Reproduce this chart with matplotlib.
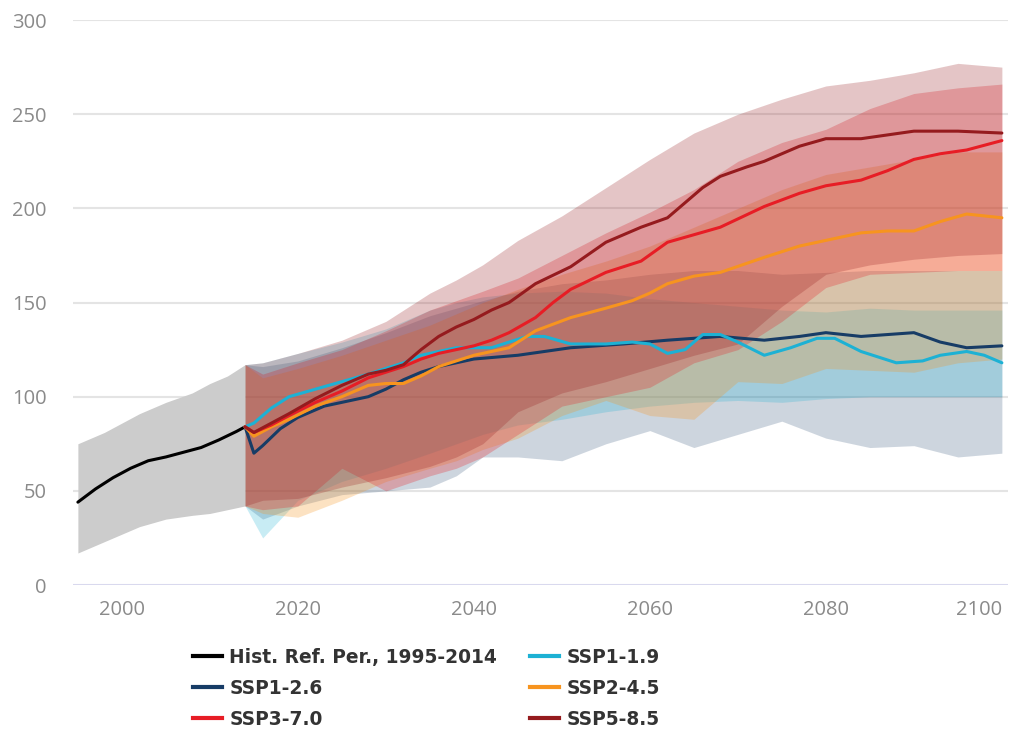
import matplotlib
matplotlib.use("Agg")
import matplotlib.pyplot as plt
from matplotlib.lines import Line2D

# ---------------- data ----------------
hist_years = [1995, 1997, 1999, 2001, 2003, 2005, 2007, 2009, 2011, 2013, 2014]
hist_vals = [44, 51, 57, 62, 66, 68, 70.5, 73, 77, 81.5, 84]
hist_band_years = [1995, 1998, 2002, 2005, 2008, 2010, 2012, 2014]
hist_upper = [75, 81, 91, 97, 102, 107, 111, 117]
hist_lower = [17, 23, 31, 35, 37, 38, 40, 42]

band_years = [2014, 2016, 2020, 2025, 2030, 2035, 2038, 2041, 2045, 2050, 2055,
              2060, 2065, 2070, 2075, 2080, 2085, 2090, 2095, 2100]

ssp126_upper = [117, 116, 119, 126, 134, 143, 147, 151, 156, 160, 162, 165, 167, 167, 165, 166, 167, 167, 167, 167]
ssp126_lower = [42, 35, 42, 48, 50, 52, 58, 68, 68, 66, 75, 82, 73, 80, 87, 78, 73, 74, 68, 70]
ssp119_upper = [117, 118, 123, 129, 136, 146, 150, 153, 155, 156, 155, 152, 150, 148, 146, 145, 147, 146, 146, 146]
ssp119_lower = [42, 25, 45, 55, 62, 70, 75, 80, 85, 88, 92, 95, 97, 98, 97, 99, 100, 100, 100, 100]
ssp245_upper = [117, 110, 115, 122, 130, 138, 144, 150, 157, 165, 172, 180, 190, 200, 210, 218, 222, 226, 230, 230]
ssp245_lower = [42, 38, 36, 45, 55, 62, 66, 72, 78, 90, 98, 90, 88, 108, 107, 115, 114, 113, 118, 120]
ssp370_upper = [117, 112, 118, 125, 135, 146, 151, 156, 163, 175, 187, 198, 210, 225, 235, 242, 253, 261, 264, 266]
ssp370_lower = [42, 40, 42, 62, 50, 58, 62, 68, 80, 95, 100, 105, 118, 125, 140, 158, 165, 166, 167, 167]
ssp585_upper = [117, 118, 123, 130, 140, 155, 162, 170, 183, 196, 211, 226, 240, 250, 258, 265, 268, 272, 277, 275]
ssp585_lower = [42, 45, 46, 52, 57, 63, 68, 75, 92, 102, 108, 115, 122, 128, 148, 165, 170, 173, 175, 176]

ssp119_years = [2014, 2015, 2017, 2019, 2022, 2025, 2028, 2030, 2032, 2034, 2036, 2038, 2040, 2042,
                2044, 2046, 2048, 2051, 2055, 2058, 2060, 2062, 2064, 2066, 2068, 2070, 2073, 2076,
                2079, 2081, 2084, 2088, 2091, 2093, 2096, 2098, 2100]
ssp119_vals = [84, 86, 94, 100, 104, 108, 112, 115, 118, 122, 124, 126, 126, 126,
               129, 132, 132, 128, 128, 129, 128, 123, 125, 133, 133, 129, 122, 126,
               131, 131, 124, 118, 119, 122, 124, 122, 118]
ssp126_years = [2014, 2015, 2016, 2018, 2020, 2023, 2026, 2028, 2030, 2032, 2034, 2036, 2038, 2040,
                2045, 2051, 2057, 2062, 2068, 2073, 2077, 2080, 2084, 2087, 2090, 2093, 2096, 2100]
ssp126_vals = [84, 70, 74, 83, 89, 95, 98, 100, 104, 109, 113, 116, 118, 120,
               122, 126, 128, 130, 132, 130, 132, 134, 132, 133, 134, 129, 126, 127]
ssp245_years = [2014, 2015, 2017, 2019, 2022, 2025, 2028, 2030, 2032, 2034, 2036, 2038, 2040, 2042,
                2044, 2047, 2051, 2055, 2058, 2060, 2062, 2065, 2068, 2073, 2077, 2080, 2084, 2087,
                2090, 2093, 2096, 2100]
ssp245_vals = [84, 79, 84, 88, 95, 100, 106, 107, 107, 111, 116, 119, 122, 124,
               126, 135, 142, 147, 151, 155, 160, 164, 166, 174, 180, 183, 187, 188,
               188, 193, 197, 195]
ssp370_years = [2014, 2015, 2017, 2019, 2022, 2025, 2028, 2030, 2032, 2034, 2036, 2038, 2040, 2042,
                2044, 2047, 2049, 2051, 2055, 2059, 2062, 2065, 2068, 2073, 2077, 2080, 2084, 2087,
                2090, 2093, 2096, 2100]
ssp370_vals = [84, 81, 85, 90, 97, 103, 110, 113, 116, 120, 123, 125, 127, 130,
               134, 142, 150, 157, 166, 172, 182, 186, 190, 201, 208, 212, 215, 220,
               226, 229, 231, 236]
ssp585_years = [2014, 2015, 2017, 2019, 2022, 2025, 2028, 2030, 2032, 2034, 2036, 2038, 2040, 2042,
                2044, 2047, 2051, 2055, 2059, 2062, 2064, 2066, 2068, 2071, 2073, 2077, 2080, 2084,
                2087, 2090, 2095, 2100]
ssp585_vals = [84, 81, 86, 91, 99, 106, 112, 114, 117, 125, 132, 137, 141, 146,
               150, 160, 169, 182, 190, 195, 203, 211, 217, 222, 225, 233, 237, 237,
               239, 241, 241, 240]

y_ticks = [0, 50, 100, 150, 200, 250, 300]
x_ticks = [2000, 2020, 2040, 2060, 2080, 2100]

labels = ["Hist. Ref. Per., 1995-2014", "SSP1-1.9", "SSP1-2.6", "SSP2-4.5", "SSP3-7.0", "SSP5-8.5"]
colors = {"hist": "#000000", "119": "#1DB1D4", "126": "#173C66", "245": "#F7941F",
          "370": "#E71D25", "585": "#951B1E"}

# ---------------- figure ----------------
fig = plt.figure(figsize=(10.13, 7.29), dpi=100)
ax = fig.add_axes([0.0721, 0.1975, 0.9230, 0.7750])
ax.set_xlim(1994.45, 2100.7)
ax.set_ylim(0, 300)

for s in ax.spines.values():
    s.set_visible(False)
for yv in y_ticks[1:]:
    ax.axhline(yv, color="#e4e4e4", lw=1.5, zorder=0)
ax.axhline(0, color="#d9d9ee", lw=2.2, zorder=0)

# bands
ax.fill_between(hist_band_years, hist_lower, hist_upper, color="#cccccc", lw=0, zorder=1)
ax.fill_between(band_years, ssp126_lower, ssp126_upper, color=colors["126"], alpha=0.21, lw=0, zorder=2)
ax.fill_between(band_years, ssp119_lower, ssp119_upper, color=colors["119"], alpha=0.24, lw=0, zorder=2)
ax.fill_between(band_years, ssp245_lower, ssp245_upper, color=colors["245"], alpha=0.27, lw=0, zorder=2)
ax.fill_between(band_years, ssp370_lower, ssp370_upper, color=colors["370"], alpha=0.27, lw=0, zorder=2)
ax.fill_between(band_years, ssp585_lower, ssp585_upper, color=colors["585"], alpha=0.25, lw=0, zorder=2)

# lines
lw = 2.2
kw = dict(lw=lw, zorder=5, solid_joinstyle="round", solid_capstyle="round")
ax.plot(hist_years, hist_vals, color=colors["hist"], **kw)
ax.plot(ssp126_years, ssp126_vals, color=colors["126"], **kw)
ax.plot(ssp119_years, ssp119_vals, color=colors["119"], **kw)
ax.plot(ssp245_years, ssp245_vals, color=colors["245"], **kw)
ax.plot(ssp370_years, ssp370_vals, color=colors["370"], **kw)
ax.plot(ssp585_years, ssp585_vals, color=colors["585"], **kw)

# ticks
ax.set_yticks(y_ticks)
ax.set_xticks(x_ticks)
ax.set_yticklabels([str(v) for v in y_ticks], fontsize=14.5, color="#8a8a8a", family="Open Sans")
ax.set_xticklabels([str(v) for v in x_ticks], fontsize=14.5, color="#8a8a8a", family="Open Sans")
ax.tick_params(axis="both", length=0)
ax.tick_params(axis="y", pad=19)
ax.tick_params(axis="x", pad=11)
ax.get_xticklabels()[-1].set_horizontalalignment("right")

# legend
handles = [
    Line2D([], [], color=colors["hist"], lw=3),
    Line2D([], [], color=colors["126"], lw=3),
    Line2D([], [], color=colors["370"], lw=3),
    Line2D([], [], color=colors["119"], lw=3),
    Line2D([], [], color=colors["245"], lw=3),
    Line2D([], [], color=colors["585"], lw=3),
]
leg_labels = [labels[0], labels[2], labels[4], labels[1], labels[3], labels[5]]
leg = fig.legend(handles, leg_labels, loc="upper left", bbox_to_anchor=(193 / 1013, 1 - 648 / 729),
                 ncol=2, frameon=False, borderpad=0, borderaxespad=0,
                 handlelength=1.55, handletextpad=0.4, columnspacing=1.78, labelspacing=0.64,
                 prop={"family": "DejaVu Sans", "weight": "bold", "size": 13.4})
for t in leg.get_texts():
    t.set_color("#333333")

fig.savefig("out.png", dpi=100)
